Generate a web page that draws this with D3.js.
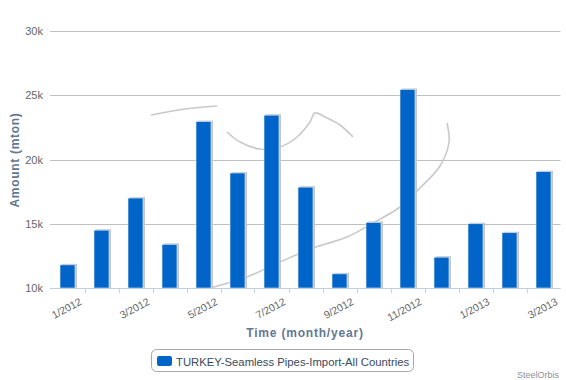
<!DOCTYPE html>
<html>
<head>
<meta charset="utf-8">
<script src="https://cdn.jsdelivr.net/npm/d3@7"></script>
<style>
  html, body { margin: 0; padding: 0; background: #fff; }
  svg { display: block; font-family: "Liberation Sans", Arial, sans-serif; }
</style>
</head>
<body>
<svg id="chart" width="566" height="380"></svg>
<script>
// ---- data ----
const categories = ["1/2012","2/2012","3/2012","4/2012","5/2012","6/2012","7/2012","8/2012",
                    "9/2012","10/2012","11/2012","12/2012","1/2013","2/2013","3/2013"];
const values = [11800, 14500, 17000, 13400, 22950, 18950, 23450, 17850,
                11100, 15100, 25450, 12400, 15000, 14300, 19050];
const yTicks = [10000, 15000, 20000, 25000, 30000];
const yTickLabels = ["10k", "15k", "20k", "25k", "30k"];
const seriesName = "TURKEY-Seamless Pipes-Import-All Countries";
const xTitle = "Time (month/year)";
const yTitle = "Amount (mton)";
const credit = "SteelOrbis";

// decorative watermark (background logo strokes)
const watermark = [
  [[151,115],[185,109],[217,106]],
  [[227,132],[240,142],[260,149],[280,147],[297,137],[310,122],[315,113],[327,118],[340,125],[353,137]],
  [[210,288],[247,277],[280,262],[313,248],[347,237],[373,223],[400,207],[420,188],[440,166],[449,142],[447,123]]
];

const svg = d3.select("#chart");
const plotLeft = 50.5, plotRight = 560.5, plotTop = 31, plotBottom = 288;

const x = d3.scaleBand().domain(categories).range([plotLeft, plotRight]).paddingInner(0.56).paddingOuter(0.28);
const y = d3.scaleLinear().domain([10000, 30000]).range([plotBottom, plotTop]);

// watermark
const wl = d3.line().curve(d3.curveCatmullRom);
svg.append("g").selectAll("path").data(watermark).join("path")
  .attr("d", wl).attr("fill", "none").attr("stroke", "#c9c9c9").attr("stroke-width", 1.6);

// grid lines
svg.append("g").selectAll("line").data(yTicks).join("line")
  .attr("x1", plotLeft - 0.5).attr("x2", plotRight)
  .attr("y1", d => Math.round(y(d)) + 0.5).attr("y2", d => Math.round(y(d)) + 0.5)
  .attr("stroke", "#c0c0c0").attr("stroke-width", 1);

// y axis labels
svg.append("g").selectAll("text").data(yTicks).join("text")
  .attr("x", 43).attr("y", d => y(d) + 4)
  .attr("text-anchor", "end").attr("font-size", 11).attr("fill", "#666")
  .text((d, i) => yTickLabels[i]);

// bars (shadow + bar)
const bars = svg.append("g");
bars.selectAll("rect.shadow").data(values).join("rect").attr("class", "shadow")
  .attr("x", (d, i) => x(categories[i]) + 2)
  .attr("y", d => y(d) - 1)
  .attr("width", x.bandwidth())
  .attr("height", d => plotBottom - y(d) + 1)
  .attr("fill", "#c6c6c6");
bars.selectAll("rect.bar").data(values).join("rect").attr("class", "bar")
  .attr("x", (d, i) => x(categories[i]))
  .attr("y", d => y(d))
  .attr("width", x.bandwidth())
  .attr("height", d => plotBottom - y(d))
  .attr("fill", "#0064c8")
  .attr("stroke", "#dfeaf7").attr("stroke-width", 0.6);

// x axis line and ticks
svg.append("line").attr("x1", plotLeft).attr("x2", plotRight).attr("y1", plotBottom + 0.5).attr("y2", plotBottom + 0.5)
  .attr("stroke", "#c0d0e0").attr("stroke-width", 1);
svg.append("g").selectAll("line").data(categories.slice(1)).join("line")
  .attr("x1", d => Math.round(x(d) - x.step() * x.paddingInner() / 2) + 0.5)
  .attr("x2", d => Math.round(x(d) - x.step() * x.paddingInner() / 2) + 0.5)
  .attr("y1", plotBottom).attr("y2", plotBottom + 5)
  .attr("stroke", "#c0d0e0").attr("stroke-width", 1);

// x labels every other category
svg.append("g").selectAll("text").data(categories.filter((d, i) => i % 2 === 0)).join("text")
  .attr("transform", d => `translate(${x(d) + x.bandwidth() / 2 + 15},304) rotate(-28)`)
  .attr("text-anchor", "end").attr("font-size", 10.5).attr("fill", "#666")
  .text(d => d);

// axis titles
svg.append("text").attr("x", 305).attr("y", 337).attr("text-anchor", "middle")
  .attr("font-size", 12).attr("font-weight", "bold").attr("letter-spacing", 0.8)
  .attr("fill", "#5f7894").text(xTitle);
svg.append("text").attr("transform", "translate(19,160) rotate(-90)").attr("text-anchor", "middle")
  .attr("font-size", 12).attr("font-weight", "bold").attr("letter-spacing", 0.7)
  .attr("fill", "#5f7894").text(yTitle);

// legend
const lg = svg.append("g");
lg.append("rect").attr("x", 151.5).attr("y", 349.5).attr("width", 262).attr("height", 22).attr("rx", 5)
  .attr("fill", "#fff").attr("stroke", "#a8a8a8").attr("stroke-width", 1);
lg.append("rect").attr("x", 157).attr("y", 356).attr("width", 15).attr("height", 10).attr("rx", 2)
  .attr("fill", "#0064c8");
lg.append("text").attr("x", 176).attr("y", 365.5).attr("font-size", 11.3).attr("fill", "#3a4a5c")
  .text(seriesName);

// credit
svg.append("text").attr("x", 559).attr("y", 378).attr("text-anchor", "end")
  .attr("font-size", 9).attr("fill", "#909090").text(credit);
</script>
</body>
</html>
